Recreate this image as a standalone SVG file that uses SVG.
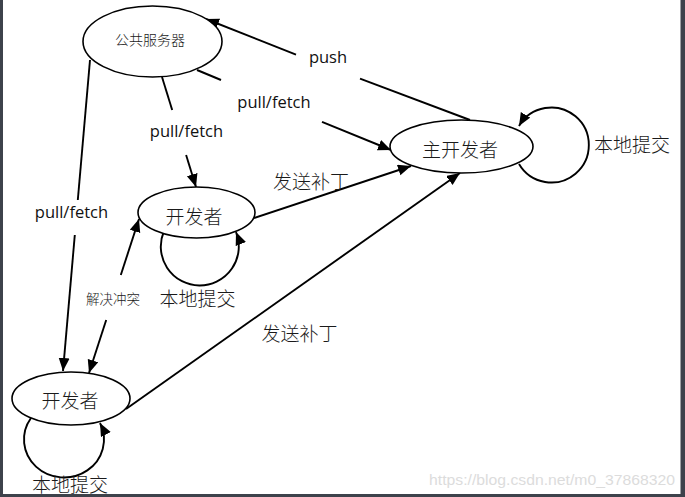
<svg xmlns="http://www.w3.org/2000/svg" width="685" height="497" viewBox="0 0 685 497">
  <style>
    .node { fill: #ffffff; stroke: #000000; stroke-width: 1.6; }
    .edge { fill: none; stroke: #000000; stroke-width: 1.9; }
    .cjk { font-family: "Noto Sans CJK SC", "Noto Sans", sans-serif; font-weight: 300; fill: #1a1a1a; text-anchor: middle; dominant-baseline: central; }
    .lat { font-family: "Open Sans", "Liberation Sans", sans-serif; font-size: 16.5px; fill: #111111; text-anchor: middle; }
    .big { font-size: 19px; }
    .small { font-size: 13.5px; }
    .wm { font-family: "Liberation Sans", sans-serif; font-size: 14px; fill: #dcdcdc; }
  </style>
  <defs>
    <marker id="ah" markerWidth="14" markerHeight="12" refX="13" refY="5.5" orient="auto" markerUnits="userSpaceOnUse">
      <path d="M0,0 L13,5.5 L0,11 Z" fill="#000000"/>
    </marker>
  </defs>

  <rect x="0" y="0" width="685" height="497" fill="#ffffff"/>

  <g id="connectors">
    <!-- push: main developer -> public server -->
    <path class="edge" d="M470,120 L360,78.7"/>
    <path class="edge" d="M296,54.7 L206,19" marker-end="url(#ah)"/>
    <!-- pull/fetch: server -> main developer -->
    <path class="edge" d="M197,70 L221,80"/>
    <path class="edge" d="M322,121.8 L391,150" marker-end="url(#ah)"/>
    <!-- pull/fetch: server -> middle developer -->
    <path class="edge" d="M162,77 L172.2,110"/>
    <path class="edge" d="M186.1,155 L196,187" marker-end="url(#ah)"/>
    <!-- pull/fetch: server -> bottom developer -->
    <path class="edge" d="M90,60 L77.8,200"/>
    <path class="edge" d="M74.8,235 L63,371" marker-end="url(#ah)"/>
    <!-- resolve conflicts (bidirectional) -->
    <path class="edge" d="M120.8,275 L139,219" marker-end="url(#ah)"/>
    <path class="edge" d="M106.2,320 L89,373" marker-end="url(#ah)"/>
    <!-- send patch: middle developer -> main developer -->
    <path class="edge" d="M254,218 L411,166" marker-end="url(#ah)"/>
    <!-- send patch: bottom developer -> main developer -->
    <path class="edge" d="M126,409 L460,173" marker-end="url(#ah)"/>
    <!-- local commit loops -->
    <path class="edge" d="M519,164 A37.5 37.5 0 1 0 519,126" marker-end="url(#ah)"/>
    <path class="edge" d="M164,231 A39 39 0 1 0 236,232" marker-end="url(#ah)"/>
    <path class="edge" d="M31,418 A40 38 0 1 0 100,423" marker-end="url(#ah)"/>
  </g>

  <g id="server">
    <ellipse class="node" cx="152.5" cy="41.5" rx="69.5" ry="35.5"/>
    <text class="cjk" x="150" y="38.5" font-size="14">公共服务器</text>
  </g>

  <g id="main-dev">
    <ellipse class="node" cx="461.5" cy="146.5" rx="71.5" ry="26.5"/>
    <text class="cjk big" x="460" y="148">主开发者</text>
  </g>

  <g id="dev-middle">
    <ellipse class="node" cx="196.5" cy="212.5" rx="58.5" ry="25.5"/>
    <text class="cjk big" x="194" y="215">开发者</text>
  </g>

  <g id="dev-bottom">
    <ellipse class="node" cx="71" cy="398.5" rx="59" ry="26.5"/>
    <text class="cjk big" x="70" y="399">开发者</text>
  </g>

  <g id="labels">
    <text class="lat" x="328" y="63">push</text>
    <text class="lat" x="274" y="107.5">pull/fetch</text>
    <text class="lat" x="186.5" y="137">pull/fetch</text>
    <text class="lat" x="71.5" y="218">pull/fetch</text>
    <text class="cjk small" x="113" y="298">解决冲突</text>
    <text class="cjk big" x="311" y="180">发送补丁</text>
    <text class="cjk big" x="299.5" y="332">发送补丁</text>
    <text class="cjk big" x="632" y="143.5">本地提交</text>
    <text class="cjk big" x="197.5" y="297.5">本地提交</text>
    <text class="cjk big" x="70" y="483.5">本地提交</text>
  </g>

  <text class="wm" x="429" y="485" textLength="246" lengthAdjust="spacingAndGlyphs">https://blog.csdn.net/m0_37868320</text>

  <g id="frame" fill="#3d424b">
    <rect x="0" y="0" width="3" height="497"/>
    <rect x="680.5" y="0" width="4.5" height="497"/>
    <rect x="0" y="494" width="685" height="3"/>
  </g>
</svg>
